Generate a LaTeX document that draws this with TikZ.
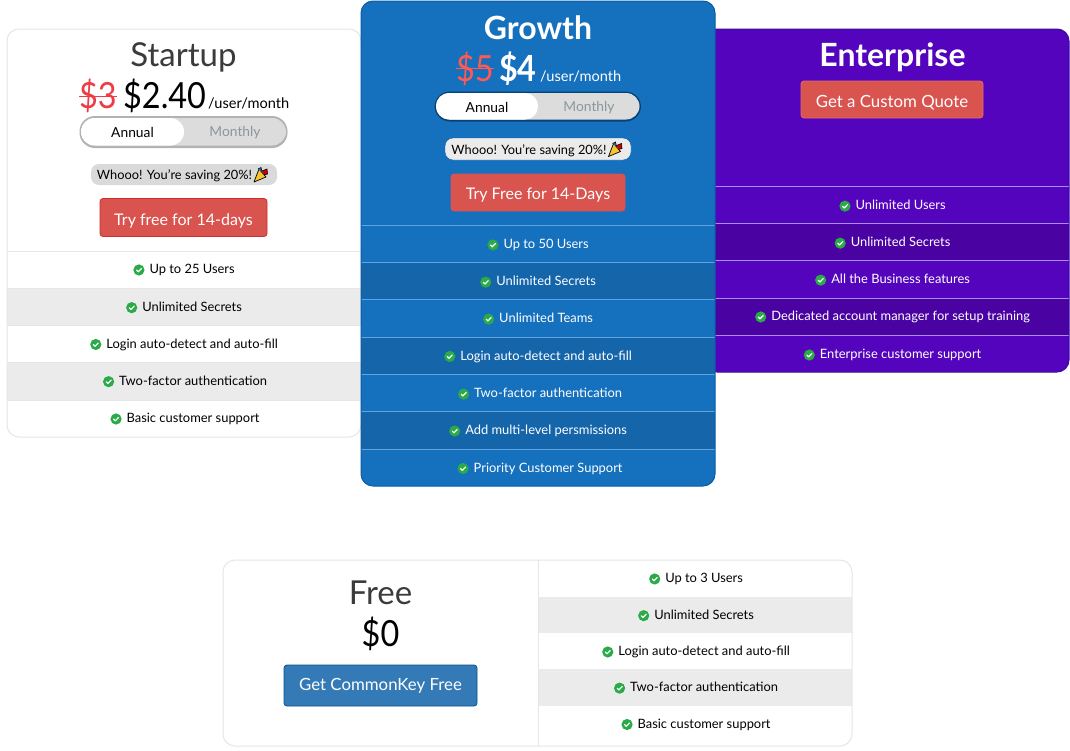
\documentclass[tikz,border=0pt]{standalone}
\usepackage{fontspec}
\setmainfont{Lato}
\newfontfamily\narrowfont[FakeStretch=0.9]{Lato}
\newcommand{\fs}[1]{\fontsize{#1pt}{#1pt}\selectfont}
\definecolor{cardline}{HTML}{E6E6E6}
\definecolor{rowgrey}{HTML}{EBEBEB}
\definecolor{blueA}{HTML}{1570BD}
\definecolor{blueB}{HTML}{1565AB}
\definecolor{blueLine}{HTML}{5FA4E0}
\definecolor{blueEdge}{HTML}{0B5CA6}
\definecolor{purpA}{HTML}{5404BD}
\definecolor{purpB}{HTML}{4A02A3}
\definecolor{purpLine}{HTML}{A98CF0}
\definecolor{purpEdge}{HTML}{3A0C9A}
\definecolor{redbtn}{HTML}{D9534F}
\definecolor{redline}{HTML}{C9302C}
\definecolor{bluebtn}{HTML}{337AB7}
\definecolor{bluebtnline}{HTML}{07538F}
\definecolor{darktitle}{HTML}{3B3B3B}
\definecolor{oldredA}{HTML}{EE3B45}
\definecolor{oldredB}{HTML}{FF5A52}
\definecolor{monthgrey}{HTML}{8A979F}
\definecolor{pillgrey}{HTML}{DADADA}
\definecolor{togglegrey}{HTML}{DCDCDC}
\definecolor{checkgreen}{HTML}{2BAA48}
\definecolor{popper}{HTML}{F7C52E}
\newsavebox{\chkbox}
\sbox{\chkbox}{\begin{tikzpicture}[x=1pt,y=1pt,baseline=-3.6pt]
\fill[checkgreen] (0,0) circle (5.6);
\draw[white,line width=1.2pt,line cap=round,line join=round] (-2.4,-0.1) -- (-0.7,-1.8) -- (2.5,1.5);
\end{tikzpicture}}
\newcommand{\chk}{\usebox{\chkbox}\hspace{5pt}}
\tikzset{
  x=1pt,y=-1pt,
  card/.style={rounded corners=12pt},
  rowtxt/.style={font=\fs{12.9},inner sep=0pt,anchor=center,yshift=-1pt},
  title/.style={font=\fs{33},inner sep=0pt,anchor=center},
  titlebold/.style={title,font=\fs{32}\bfseries,text=white},
  price/.style={font=\narrowfont\fs{36},inner sep=0pt,anchor=base west},
  per/.style={font=\fs{14.6},inner sep=0pt,anchor=base west},
  btn/.style={draw=redline,fill=redbtn,rounded corners=3pt,line width=.8pt,text=white,font=\fs{16},inner sep=0pt,text depth=1pt},
  pill/.style={font=\fs{12.8},inner sep=0pt},
  tog/.style={font=\fs{13.8},inner sep=0pt},
  popperpic/.pic={
    \fill[popper,draw=black,line width=.7pt,line join=round] (-7,7) -- (-2,-6) -- (5,2) -- cycle;
    \fill[blueA] (-3,-6) -- (0,-7.5) -- (1,-3) -- cycle;
    \fill[red!80!black] (1,-4) -- (6,-6) -- (6.5,-1) -- (3,0) -- cycle;
    \draw[black,line width=.6pt] (-3,-6) -- (0,-7.5) -- (1,-3);
    \draw[black,line width=.6pt] (1,-4) -- (6,-6) -- (6.5,-1) -- (3,0);
  },
}
\begin{document}
\begin{tikzpicture}
\useasboundingbox (0,0) rectangle (1070,750);
\fill[white] (0,0) rectangle (1070,750);

% ---------- Startup
\begin{scope}
\clip[card] (7,29) rectangle (361,437);
\fill[rowgrey] (7,288) rectangle (361,325);
\fill[rowgrey] (7,362) rectangle (361,400);
\foreach \y in {251,288,325,362,400} \draw[cardline,line width=1pt] (7,\y) -- (361,\y);
\end{scope}
\draw[cardline,line width=1pt,card] (7,29) rectangle (361,437);
\node[title,text=darktitle,yshift=-2.5pt] (st) at (183.5,55) {Startup};
\node[price,text=oldredA] (stold) at (79,108.5) {\$3};
\node[price] (stnew) at (123,108.5) {\$2.40};
\node[per] (stper) at (208,108) {/user/month};
\draw[oldredA,line width=1pt] (stold.west |- 0,96) -- (stold.east |- 0,96);
\fill[black!30,rounded corners=15.5pt] (79.5,116) rectangle (287.5,148);
\fill[togglegrey,rounded corners=14pt] (81,118) rectangle (286,145.5);
\fill[white,rounded corners=13.5pt] (81,118) rectangle (184,145.5);
\node[tog] (sta) at (132.5,132.5) {Annual};
\node[tog,text=monthgrey] (stm) at (235,132.5) {Monthly};
\fill[pillgrey,rounded corners=8pt] (91,164) rectangle (277,185);
\node[pill] (stw) at (174.5,176) {Whooo! You're saving 20\%!};
\pic at (261,175) {popperpic};
\node[btn,text height=16pt,minimum width=167pt,minimum height=38pt] (stb) at (183.5,217.5) {Try free for 14-days};
\node[rowtxt] (s1) at (184,269) {\chk Up to 25 Users};
\node[rowtxt] (s2) at (184,306.5) {\chk Unlimited Secrets};
\node[rowtxt] (s3) at (184,343.5) {\chk Login auto-detect and auto-fill};
\node[rowtxt] (s4) at (185,380.5) {\chk Two-factor authentication};
\node[rowtxt] (s5) at (185,418) {\chk Basic customer support};

% ---------- Enterprise
\fill[purpA,card] (705,29) rectangle (1069,372);
\begin{scope}
\clip[card] (705,29) rectangle (1069,372);
\fill[purpB] (705,223) rectangle (1069,260);
\fill[purpB] (705,298) rectangle (1069,335);
\foreach \y in {186,223,260,298,335} \draw[purpLine,line width=1pt] (705,\y) -- (1069,\y);
\end{scope}
\draw[purpEdge,line width=1pt,card] (705,29) rectangle (1069,372);
\node[titlebold,yshift=-2.5pt] (en) at (892.5,55) {Enterprise};
\node[btn,draw=redbtn!85!white,font=\fs{16.8},text height=16pt,minimum width=182pt,minimum height=37pt] (enb) at (892,99.5) {Get a Custom Quote};
\node[rowtxt,text=white] (e1) at (892.5,205) {\chk Unlimited Users};
\node[rowtxt,text=white] (e2) at (892.5,242) {\chk Unlimited Secrets};
\node[rowtxt,text=white] (e3) at (892.5,279) {\chk All the Business features};
\node[rowtxt,text=white] (e4) at (892.5,316) {\chk Dedicated account manager for setup training};
\node[rowtxt,text=white] (e5) at (892.5,354) {\chk Enterprise customer support};

% ---------- Growth
\fill[blueA,card] (361,1) rectangle (715,486);
\begin{scope}
\clip[card] (361,1) rectangle (715,486);
\fill[blueB] (361,262) rectangle (715,299);
\fill[blueB] (361,337) rectangle (715,374);
\fill[blueB] (361,411) rectangle (715,449);
\foreach \y in {225,262,299,337,374,411,449} \draw[blueLine,line width=1pt] (361,\y) -- (715,\y);
\end{scope}
\draw[blueEdge,line width=1pt,card] (361,1) rectangle (715,486);
\node[titlebold] (gr) at (538,28) {Growth};
\node[price,text=oldredB] (grold) at (456,81.5) {\$5};
\node[price,text=white,font=\narrowfont\fs{36}\bfseries] (grnew) at (499,81.5) {\$4};
\node[per,text=white] (grper) at (540,81) {/user/month};
\draw[oldredB,line width=1pt] (grold.west |- 0,68) -- (grold.east |- 0,68);
\fill[blueEdge!70!black,rounded corners=15.5pt] (434.5,91.5) rectangle (641,121.5);
\fill[togglegrey,rounded corners=13.5pt] (436,93) rectangle (639.5,119.5);
\fill[white,rounded corners=13pt] (436,93) rectangle (538,119.5);
\node[tog] (gra) at (487,107.5) {Annual};
\node[tog,text=monthgrey] (grm) at (589,107.5) {Monthly};
\fill[rowgrey,draw=blueEdge,rounded corners=8pt] (445,138) rectangle (631,160);
\node[pill] (grw) at (529,150.5) {Whooo! You're saving 20\%!};
\pic at (615.5,149.5) {popperpic};
\node[btn,draw=redbtn,text height=14pt,minimum width=174pt,minimum height=37pt] (grb) at (538,192.5) {Try Free for 14-Days};
\node[rowtxt,text=white] (g1) at (538,244) {\chk Up to 50 Users};
\node[rowtxt,text=white] (g2) at (538,281) {\chk Unlimited Secrets};
\node[rowtxt,text=white] (g3) at (538,318) {\chk Unlimited Teams};
\node[rowtxt,text=white] (g4) at (538,355.5) {\chk Login auto-detect and auto-fill};
\node[rowtxt,text=white] (g5) at (540,393) {\chk Two-factor authentication};
\node[rowtxt,text=white] (g6) at (538,430) {\chk Add multi-level persmissions};
\node[rowtxt,text=white] (g7) at (540,467.5) {\chk Priority Customer Support};

% ---------- Free
\begin{scope}
\clip[card] (223,560) rectangle (852,746);
\fill[rowgrey] (538,597) rectangle (852,633);
\fill[rowgrey] (538,669) rectangle (852,706);
\end{scope}
\draw[cardline,line width=1pt] (538,560) -- (538,746);
\draw[cardline,line width=1pt,card] (223,560) rectangle (852,746);
\node[title,text=darktitle] (fr) at (380.5,593) {Free};
\node[inner sep=0pt,font=\narrowfont\fs{36}] (frp) at (380.5,634) {\$0};
\node[btn,draw=bluebtnline,fill=bluebtn,font=\fs{16.8},text height=11pt,minimum width=193pt,minimum height=41pt] (frb) at (380.5,685.5) {Get CommonKey Free};
\node[rowtxt] (f1) at (696,578) {\chk Up to 3 Users};
\node[rowtxt] (f2) at (696,614.5) {\chk Unlimited Secrets};
\node[rowtxt] (f3) at (696,651) {\chk Login auto-detect and auto-fill};
\node[rowtxt] (f4) at (696,687) {\chk Two-factor authentication};
\node[rowtxt] (f5) at (696,723.5) {\chk Basic customer support};
\end{tikzpicture}
\end{document}
